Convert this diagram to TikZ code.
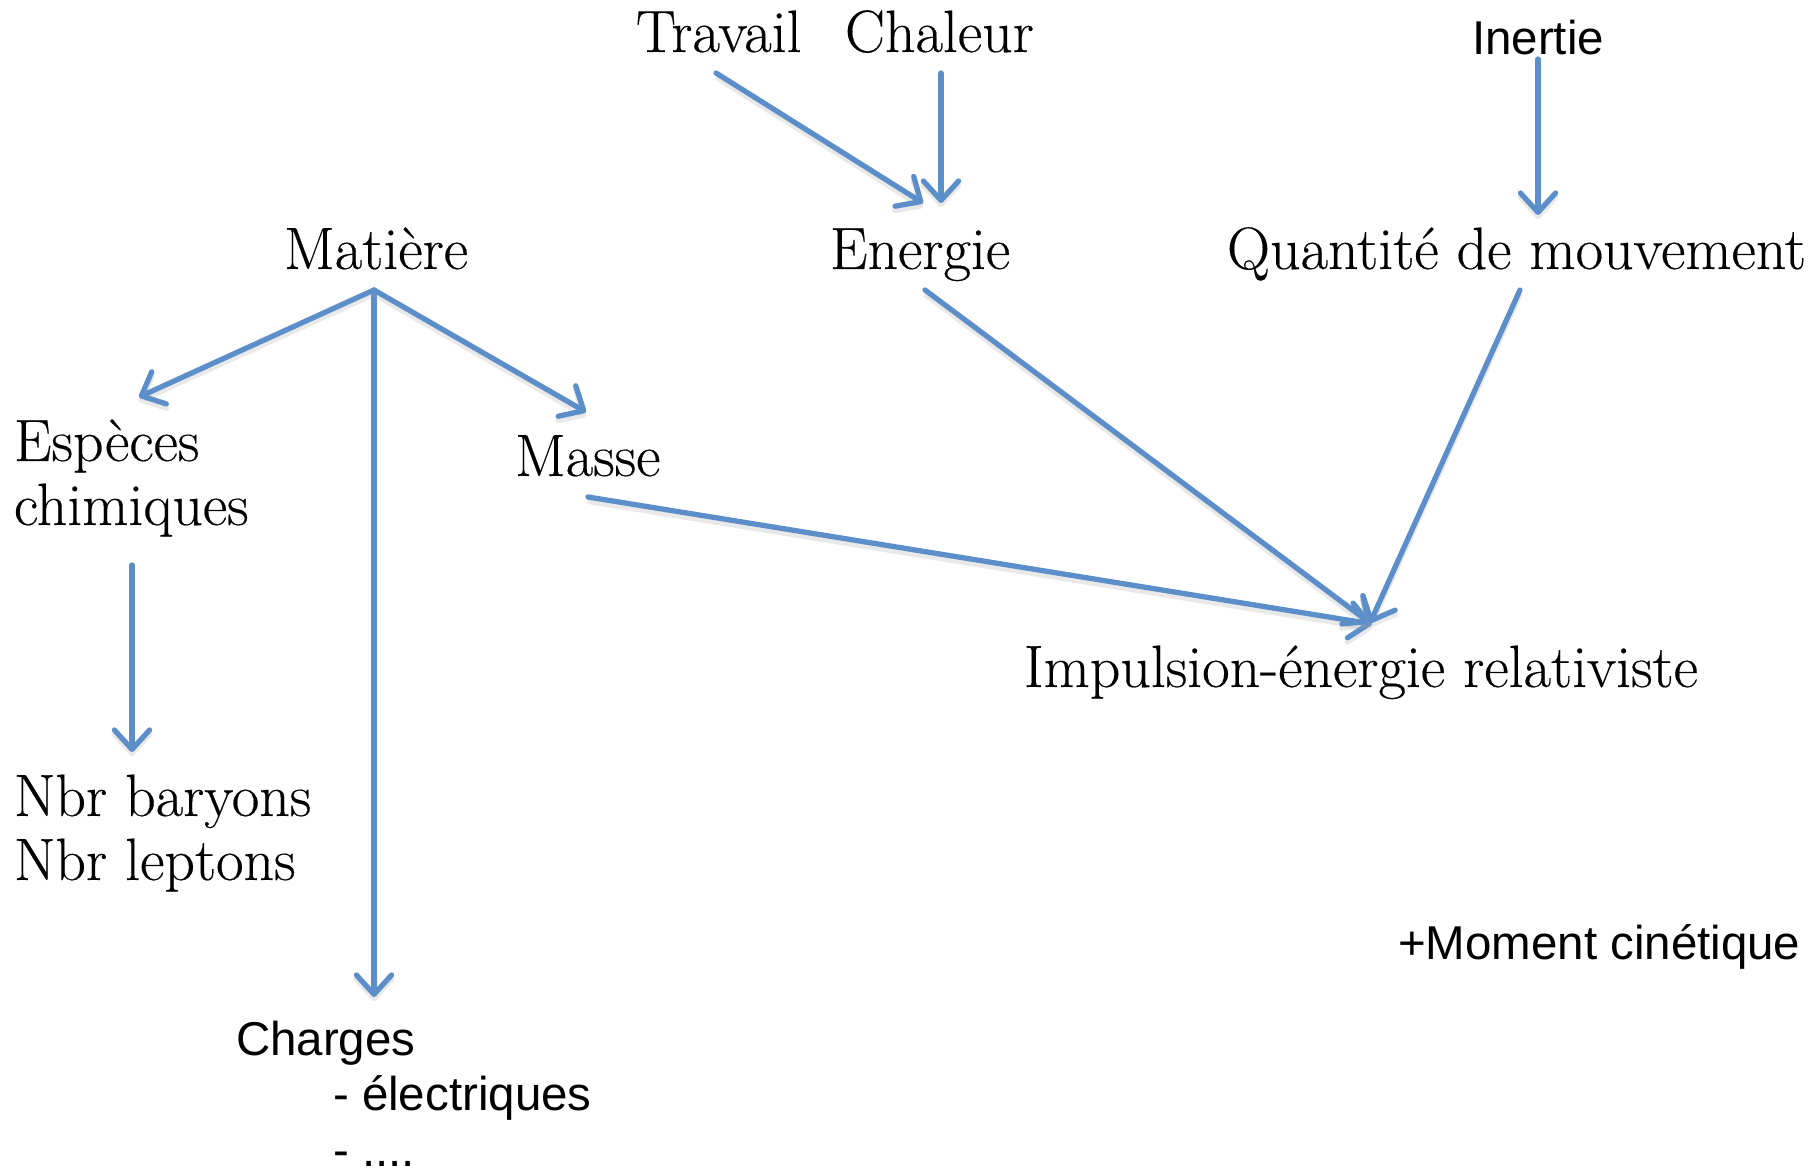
\documentclass[tikz,border=0pt]{standalone}
\usepackage{fontspec}
\newfontfamily\sansf{Liberation Sans}
\newfontfamily\serf{Latin Modern Roman}[FakeBold=0.3]
\usetikzlibrary{arrows.meta,calc}
\definecolor{arrblue}{RGB}{92,142,202}
\begin{document}
\begin{tikzpicture}[x=0.01cm,y=-0.01cm,
  serif/.style={anchor=base west,inner sep=0pt,outer sep=0pt,font=\serf\fontsize{17}{20}\selectfont},
  sans/.style={anchor=base west,inner sep=0pt,outer sep=0pt,font=\sansf\fontsize{13.5}{16}\selectfont},
  arr/.style={draw=arrblue,line width=1.5pt,line cap=round,
    -{Straight Barb[length=5.5pt,width=10pt,line cap=round,line join=round]},
    preaction={draw=black!35,opacity=0.25,line width=1.6pt,transform canvas={yshift=-1.2pt}}}]
\useasboundingbox (0,0) rectangle (1820,1176);

\node[serif] (trav) at (636,52) {Travail};
\node[serif] (chal) at (845,52) {Chaleur};
\node[sans]  (iner) at (1472,55) {Inertie};
\node[serif] (mat)  at (284,269) {Matière};
\node[serif] (ener) at (830,269) {Energie};
\node[serif] (qdm)  at (1227,269) {Quantité de mouvement};
\node[serif] (esp)  at (14,461) {\vtop{\baselineskip=18.2pt\hbox{Espèces}\hbox{chimiques}}};
\node[serif] (mas)  at (515,476) {Masse};
\node[serif] (imp)  at (1024,687) {Impulsion-énergie relativiste};
\node[serif] (nbr)  at (14,816) {\vtop{\baselineskip=18.2pt\hbox{Nbr baryons}\hbox{Nbr leptons}}};
\node[sans]  (cha)  at (236,1055) {\vtop{\baselineskip=15.9pt\hbox{Charges}\hbox{\kern27.6pt- électriques}\hbox{\kern27.6pt- ....}}};
\node[sans]  (mom)  at (1398,959) {+Moment cinétique};

\draw[arr] ($(trav.base west)+(80,21)$) -- ($(ener.base west)+(93,-66)$);
\draw[arr] ($(chal.base west)+(96,21)$) -- ($(ener.base west)+(111,-66)$);
\draw[arr] ($(iner.base west)+(66,4)$) -- ($(qdm.base west)+(311,-54)$);
\draw[arr] ($(mat.base west)+(90,21)$) -- ($(esp.base west)+(125,-64)$);
\draw[arr] ($(mat.base west)+(90,21)$) -- ($(cha.base west)+(138,-58)$);
\draw[arr] ($(mat.base west)+(90,21)$) -- ($(mas.base west)+(71,-64)$);
\draw[arr] ($(esp.base west)+(118,104)$) -- ($(nbr.base west)+(118,-64)$);
\draw[arr] ($(mas.base west)+(73,21)$) -- ($(imp.base west)+(348,-63)$);
\draw[arr] ($(ener.base west)+(95,21)$) -- ($(imp.base west)+(346,-64)$);
\draw[arr] ($(qdm.base west)+(293,21)$) -- ($(imp.base west)+(346,-64)$);
\end{tikzpicture}
\end{document}
